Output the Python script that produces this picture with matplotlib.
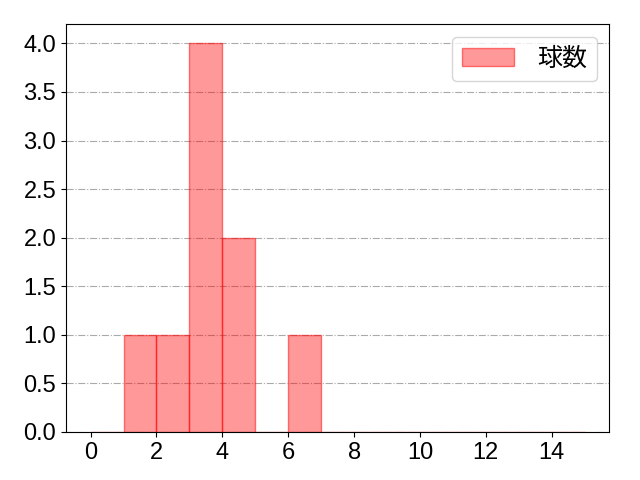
import matplotlib
matplotlib.use("Agg")
import matplotlib.pyplot as plt
from matplotlib.ticker import MultipleLocator, FormatStrFormatter

plt.rcParams['font.family'] = ['Liberation Sans', 'Noto Sans CJK JP', 'DejaVu Sans']

# pitch counts per appearance
pitches = [1, 2, 3, 3, 3, 3, 4, 4, 6]
bins = list(range(0, 16))
label = "球数"

fig = plt.figure(figsize=(6.4, 4.8), dpi=100)
ax = fig.add_axes([0.103, 0.1, 0.849, 0.85])
ax.hist(pitches, bins=bins, color=(1.0, 0.0, 0.0, 0.4), edgecolor=(1.0, 0.0, 0.0, 0.5),
        linewidth=1.0, label=label)
ax.grid(axis='y', color='#aaaaaa', linestyle='-.', linewidth=0.8)
ax.set_axisbelow(True)
ax.set_xticks(range(0, 15, 2))
ax.yaxis.set_major_locator(MultipleLocator(0.5))
ax.yaxis.set_major_formatter(FormatStrFormatter('%.1f'))
ax.tick_params(labelsize=17)
ax.legend(fontsize=18, loc='upper right', handlelength=2.1, handletextpad=0.9)
fig.savefig("out.png", dpi=100)
